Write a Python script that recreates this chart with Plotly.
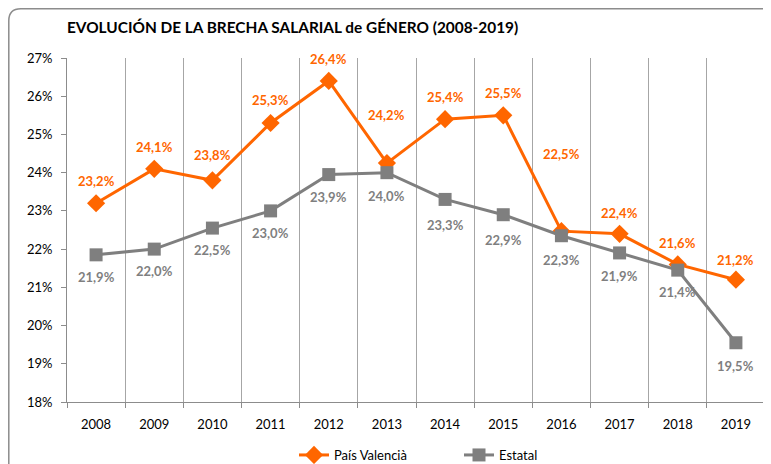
import plotly.graph_objects as go

years = [2008, 2009, 2010, 2011, 2012, 2013, 2014, 2015, 2016, 2017, 2018, 2019]
pais_valencia = [23.2, 24.1, 23.8, 25.3, 26.4, 24.25, 25.4, 25.5, 22.47, 22.4, 21.6, 21.2]
pais_labels = ["23,2%", "24,1%", "23,8%", "25,3%", "26,4%", "24,2%", "25,4%", "25,5%", "22,5%", "22,4%", "21,6%", "21,2%"]
estatal = [21.85, 22.0, 22.55, 23.0, 23.95, 24.0, 23.3, 22.9, 22.35, 21.9, 21.45, 19.55]
estatal_labels = ["21,9%", "22,0%", "22,5%", "23,0%", "23,9%", "24,0%", "23,3%", "22,9%", "22,3%", "21,9%", "21,4%", "19,5%"]

# label offsets (pixels, style only)
pais_shift = [22, 22, 25, 23, 22, 48, 22, 22, 77, 21, 21, 20]
estatal_shift = [-22, -22, -22, -22, -22, -23, -26, -25, -24, -23, -22, -23]

ORANGE = "#FF6600"
GRAY = "#7F7F7F"
FONT = "Lato"

# the page body has an 8px margin, so figure coords = page coords - 8
FW, FH = 763, 456
L, R, T, B = 59, 757, 50, 394
W, H = R - L, B - T
def px(xp):
    return (xp - L) / W
def py(yp):
    return (B - yp) / H

fig = go.Figure()
fig.add_trace(go.Scatter(
    x=years, y=pais_valencia, name="País Valencià", mode="lines+markers",
    line=dict(color=ORANGE, width=3),
    marker=dict(symbol="diamond", size=14, color=ORANGE),
))
fig.add_trace(go.Scatter(
    x=years, y=estatal, name="Estatal", mode="lines+markers",
    line=dict(color=GRAY, width=3),
    marker=dict(symbol="square", size=13, color=GRAY),
))

ann = []
for x, y, t, s in zip(years, pais_valencia, pais_labels, pais_shift):
    ann.append(dict(x=x, y=y, text=t, showarrow=False, yshift=s,
                    font=dict(family=FONT, size=13, color=ORANGE, weight="bold")))
for x, y, t, s in zip(years, estatal, estatal_labels, estatal_shift):
    ann.append(dict(x=x, y=y, text=t, showarrow=False, yshift=s,
                    font=dict(family=FONT, size=13, color=GRAY, weight="bold")))

# outer rounded frame
x0, x1, y0, y1, r = 0.8, 790, 0.8, 480, 12
path = (f"M {px(x0)} {py(y1)} L {px(x0)} {py(y0 + r)} "
        f"Q {px(x0)} {py(y0)} {px(x0 + r)} {py(y0)} "
        f"L {px(x1)} {py(y0)}")

fig.update_layout(
    width=FW, height=FH,
    margin=dict(l=L, r=FW - R, t=T, b=FH - B, autoexpand=False),
    paper_bgcolor="white", plot_bgcolor="white",
    font=dict(family=FONT, size=13, color="black"),
    title=dict(text="<b>EVOLUCIÓN DE LA BRECHA SALARIAL de GÉNERO (2008-2019)</b>",
               x=59 / FW, xanchor="left", y=1 - 20 / FH, yanchor="middle",
               font=dict(family=FONT, size=15.4, color="black")),
    showlegend=True,
    legend=dict(orientation="h", x=px(286), xanchor="left", y=py(447), yanchor="middle",
                font=dict(family=FONT, size=13, color="black"),
                itemwidth=30, entrywidth=120, entrywidthmode="pixels"),
    annotations=ann,
    shapes=[dict(type="path", path=path, xref="paper", yref="paper",
                 line=dict(color="#8C8C8C", width=1.5), layer="below")],
)

fig.update_xaxes(
    range=[2007.5, 2019.5], tickmode="array", tickvals=years,
    ticktext=[str(y) for y in years], ticks="", showgrid=False,
    showline=True, linecolor="#8C8C8C", linewidth=1, mirror=False,
    zeroline=False, ticklabelstandoff=10,
    minor=dict(tick0=2007.5, dtick=1, showgrid=True, gridcolor="#A6A6A6", gridwidth=1,
               ticks="outside", ticklen=5, tickcolor="#8C8C8C"),
)
fig.update_yaxes(
    range=[18, 27], dtick=1, ticksuffix="%", ticks="outside", ticklen=5,
    tickcolor="#8C8C8C", showgrid=False, showline=True, linecolor="#8C8C8C",
    linewidth=1, zeroline=False, ticklabelstandoff=6,
)
# right border of plot area
fig.add_shape(type="line", xref="paper", yref="paper", x0=1, x1=1, y0=0, y1=1,
              line=dict(color="#BFBFBF", width=2))

fig.write_html("out.html")
